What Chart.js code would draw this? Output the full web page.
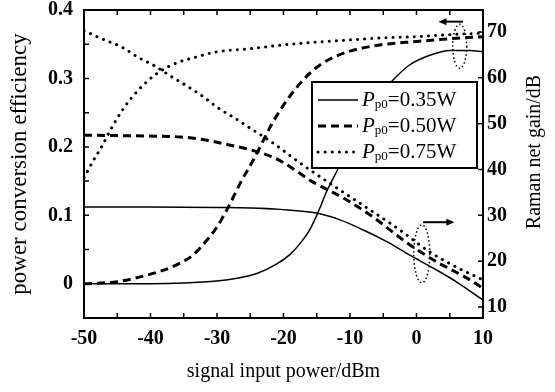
<!DOCTYPE html>
<html>
<head>
<meta charset="utf-8">
<script src="https://cdn.jsdelivr.net/npm/chart.js@4.4.0/dist/chart.umd.min.js"></script>
<style>
  html, body { margin: 0; padding: 0; background: #fff; }
</style>
</head>
<body>
<canvas id="myChart" width="555" height="392"></canvas>
<script>
// signal input power (dBm) -> power conversion efficiency, Pp0 = 0.35 / 0.50 / 0.75 W
let eff035X = [-50, -40, -35, -30, -27, -24, -21, -19, -17.5, -16, -15, -13.5, -11.8, -10, -8, -6, -3.5, -1, 2, 5, 8, 10];
let eff035 = [0, 0, 0.001, 0.004, 0.008, 0.015, 0.029, 0.043, 0.059, 0.08, 0.1, 0.135, 0.168, 0.205, 0.24, 0.27, 0.298, 0.32, 0.334, 0.341, 0.341, 0.339];

let eff050X = [-50, -45, -42, -38, -36, -33.6, -31.5, -30, -28.3, -26.5, -24.3, -22, -20, -18, -16, -14, -12, -10, -5.5, 0, 5, 10];
let eff050 = [0, 0.003, 0.009, 0.02, 0.028, 0.042, 0.064, 0.083, 0.112, 0.147, 0.185, 0.229, 0.261, 0.287, 0.308, 0.323, 0.333, 0.34, 0.349, 0.354, 0.358, 0.361];

let eff075X = [-50, -48.3, -47.6, -45.6, -44, -43, -40.8, -38.6, -36, -33.6, -30, -25.5, -19, -12, -5.5, 0, 5, 10];
let eff075 = [0.155, 0.185, 0.196, 0.232, 0.257, 0.27, 0.293, 0.31, 0.323, 0.33, 0.339, 0.343, 0.35, 0.355, 0.359, 0.361, 0.364, 0.366];

// signal input power (dBm) -> Raman net gain (dB)
let gain035X = [-50, -40, -30, -25, -20.5, -15, -11.5, -8, -4.4, -1, 2.5, 6, 10];
let gain035 = [31.8, 31.8, 31.7, 31.6, 31.3, 30.5, 29, 26.8, 24.2, 21.3, 18.5, 15.5, 11.5];

let gain050X = [-50, -40.5, -35.5, -31.5, -28, -25.5, -21.6, -20, -15.6, -11, -6.5, -2, 2.5, 7.6, 10];
let gain050 = [47.5, 47.3, 47.1, 46.4, 45.3, 44.5, 42.7, 41.5, 37.3, 33.8, 29.6, 24.6, 20.3, 16.3, 14.1];

let gain075X = [-50, -46.8, -44.3, -41.9, -39.6, -37, -34.5, -32, -29.8, -27.3, -25, -21.6, -17.5, -11.5, -7, -2.5, 2, 6, 10];
let gain075 = [70.3, 68.2, 66.7, 64.5, 62.8, 60.4, 58.2, 55.8, 53.4, 51.2, 49, 45.8, 41.4, 35.5, 31.2, 26.8, 22, 18.7, 15.9];

// tick labels
let xTickValues = [-50, -40, -30, -20, -10, 0, 10];
let effTickValues = [0, 0.1, 0.2, 0.3, 0.4];
let gainTickValues = [10, 20, 30, 40, 50, 60, 70];
let legendLabels = ['0.35W', '0.50W', '0.75W'];

function toPoints(xs, ys) {
  let pts = [];
  for (let i in xs) {
    pts.push({ x: xs[i], y: ys[i] });
  }
  return pts;
}

const serif = "'Liberation Serif', 'Times New Roman', serif";
const solid = [];
const dashed = [8, 5];
const dotted = [0.1, 7];

function lineSet(label, pts, axis, dash, width) {
  return {
    label: label,
    data: pts,
    yAxisID: axis,
    borderColor: '#000',
    borderWidth: width,
    borderDash: dash,
    borderCapStyle: dash === dotted ? 'round' : 'butt',
    pointRadius: 0,
    fill: false,
    cubicInterpolationMode: 'monotone'
  };
}

// ringed curves and arrows in the figure (data coordinates)
const marks = {
  effRing: { x: 6.5, y: 0.347, rx: 7, ry: 22 },
  gainRing: { x: 0.8, y: 21.6, rx: 8, ry: 29 },
  effArrow: { from: 7, to: 3.3, y: 0.383 },
  gainArrow: { from: 1, to: 5.7, y: 28.5 }
};

function arrow(ctx, x1, x2, y) {
  let dir = x2 > x1 ? 1 : -1;
  ctx.beginPath();
  ctx.moveTo(x1, y);
  ctx.lineTo(x2 - dir * 5, y);
  ctx.stroke();
  ctx.beginPath();
  ctx.moveTo(x2, y);
  ctx.lineTo(x2 - dir * 8, y - 3.5);
  ctx.lineTo(x2 - dir * 8, y + 3.5);
  ctx.closePath();
  ctx.fill();
}

const framePlugin = {
  id: 'frame',
  afterDatasetsDraw(chart) {
    let ctx = chart.ctx;
    let a = chart.chartArea;
    let xs = chart.scales.x, yl = chart.scales.y, yr = chart.scales.y2;
    ctx.save();
    ctx.strokeStyle = '#000';
    ctx.fillStyle = '#000';

    // rings and arrows
    ctx.lineWidth = 1.5;
    ctx.setLineDash([1.5, 2.5]);
    ctx.beginPath();
    ctx.ellipse(xs.getPixelForValue(marks.effRing.x), yl.getPixelForValue(marks.effRing.y), marks.effRing.rx, marks.effRing.ry, 0, 0, Math.PI * 2);
    ctx.stroke();
    ctx.beginPath();
    ctx.ellipse(xs.getPixelForValue(marks.gainRing.x), yr.getPixelForValue(marks.gainRing.y), marks.gainRing.rx, marks.gainRing.ry, 0, 0, Math.PI * 2);
    ctx.stroke();
    ctx.setLineDash([]);
    ctx.lineWidth = 2;
    arrow(ctx, xs.getPixelForValue(marks.effArrow.from), xs.getPixelForValue(marks.effArrow.to), yl.getPixelForValue(marks.effArrow.y));
    arrow(ctx, xs.getPixelForValue(marks.gainArrow.from), xs.getPixelForValue(marks.gainArrow.to), yr.getPixelForValue(marks.gainArrow.y));

    // legend box
    let lx = a.right - 171, ly = a.top + 72, lw = 165, lh = 86;
    ctx.fillStyle = '#fff';
    ctx.fillRect(lx, ly, lw, lh);
    ctx.lineWidth = 2;
    ctx.strokeRect(lx, ly, lw, lh);
    ctx.fillStyle = '#000';
    let dashes = [solid, dashed, dotted];
    let widths = [1.5, 3, 3];
    for (let i = 0; i < 3; i++) {
      let ry = ly + 18 + i * 26;
      ctx.setLineDash(dashes[i]);
      ctx.lineWidth = widths[i];
      ctx.lineCap = i === 2 ? 'round' : 'butt';
      ctx.beginPath();
      ctx.moveTo(lx + 6, ry);
      ctx.lineTo(lx + 46, ry);
      ctx.stroke();
      ctx.setLineDash([]);
      ctx.textBaseline = 'middle';
      let tx = lx + 50;
      ctx.font = 'italic 21px ' + serif;
      ctx.fillText('P', tx, ry);
      tx += ctx.measureText('P').width;
      ctx.font = '13px ' + serif;
      ctx.fillText('p0', tx, ry + 5);
      tx += ctx.measureText('p0').width;
      ctx.font = '21px ' + serif;
      ctx.fillText('=' + legendLabels[i], tx, ry);
    }
    ctx.restore();
  },
  afterDraw(chart) {
    let ctx = chart.ctx;
    let a = chart.chartArea;
    let xs = chart.scales.x, yl = chart.scales.y, yr = chart.scales.y2;
    ctx.save();
    ctx.strokeStyle = '#000';
    ctx.lineWidth = 2;
    ctx.strokeRect(a.left, a.top, a.right - a.left, a.bottom - a.top);

    // inward ticks
    ctx.lineWidth = 1.5;
    ctx.beginPath();
    for (let v = xs.min; v <= xs.max; v += 5) {
      let px = xs.getPixelForValue(v);
      ctx.moveTo(px, a.bottom); ctx.lineTo(px, a.bottom - 5);
      ctx.moveTo(px, a.top); ctx.lineTo(px, a.top + 5);
    }
    for (let i = -1; i <= 8; i++) {
      let py = yl.getPixelForValue(i * 0.05);
      ctx.moveTo(a.left, py); ctx.lineTo(a.left + 5, py);
    }
    for (let v of gainTickValues) {
      let py = yr.getPixelForValue(v);
      ctx.moveTo(a.right, py); ctx.lineTo(a.right - 5, py);
    }
    ctx.stroke();

    // right axis title, reading upward
    ctx.fillStyle = '#000';
    ctx.font = '20px ' + serif;
    ctx.textAlign = 'center';
    ctx.textBaseline = 'middle';
    ctx.translate(535, 152);
    ctx.rotate(-Math.PI / 2);
    ctx.fillText('Raman net gain/dB', 0, 0);
    ctx.restore();
  }
};

let tickFont = { family: serif, size: 20, weight: 'bold' };

// fixed axis boxes so the plot area sits where it does in the figure
function fitY(w) {
  return s => { s.width = w; s.paddingTop = 0; s.paddingBottom = 0; };
}

let myChart = {
  type: 'line',
  data: {
    datasets: [
      lineSet('eff 0.35W', toPoints(eff035X, eff035), 'y', solid, 1.5),
      lineSet('eff 0.50W', toPoints(eff050X, eff050), 'y', dashed, 3),
      lineSet('eff 0.75W', toPoints(eff075X, eff075), 'y', dotted, 3),
      lineSet('gain 0.35W', toPoints(gain035X, gain035), 'y2', solid, 1.5),
      lineSet('gain 0.50W', toPoints(gain050X, gain050), 'y2', dashed, 3),
      lineSet('gain 0.75W', toPoints(gain075X, gain075), 'y2', dotted, 3)
    ]
  },
  options: {
    responsive: false,
    animation: false,
    devicePixelRatio: 1,
    layout: { padding: { top: 10, left: 0, right: 0, bottom: 0 } },
    plugins: {
      legend: { display: false },
      tooltip: { enabled: false }
    },
    scales: {
      x: {
        type: 'linear',
        min: -50,
        max: 10,
        grid: { display: false, drawTicks: false },
        border: { display: false },
        afterBuildTicks: s => { s.ticks = xTickValues.map(v => ({ value: v })); },
        afterFit: s => { s.height = 74; s.paddingLeft = 0; s.paddingRight = 0; },
        ticks: { font: tickFont, color: '#000', padding: 9, maxRotation: 0, autoSkip: false },
        title: {
          display: true,
          text: 'signal input power/dBm',
          color: '#000',
          font: { family: serif, size: 20 },
          padding: { top: 0, bottom: 8 }
        }
      },
      y: {
        position: 'left',
        min: -0.05,
        max: 0.4,
        grid: { display: false, drawTicks: false },
        border: { display: false },
        afterBuildTicks: s => { s.ticks = effTickValues.map(v => ({ value: v })); },
        afterFit: fitY(84),
        ticks: {
          font: tickFont,
          color: '#000',
          padding: 11,
          callback: v => v === 0 ? '0' : v.toFixed(1)
        },
        title: {
          display: true,
          text: 'power conversion efficiency',
          color: '#000',
          font: { family: serif, size: 23 },
          padding: { top: 6, bottom: 0 }
        }
      },
      y2: {
        position: 'right',
        min: 7.6,
        max: 74.8,
        grid: { display: false, drawTicks: false },
        border: { display: false },
        afterBuildTicks: s => { s.ticks = gainTickValues.map(v => ({ value: v })); },
        afterFit: fitY(72),
        ticks: { font: tickFont, color: '#000', padding: 4 }
      }
    }
  },
  plugins: [framePlugin]
};

var ctxChart = document.getElementById('myChart');
window.chart = new Chart(ctxChart, myChart);
</script>
</body>
</html>
